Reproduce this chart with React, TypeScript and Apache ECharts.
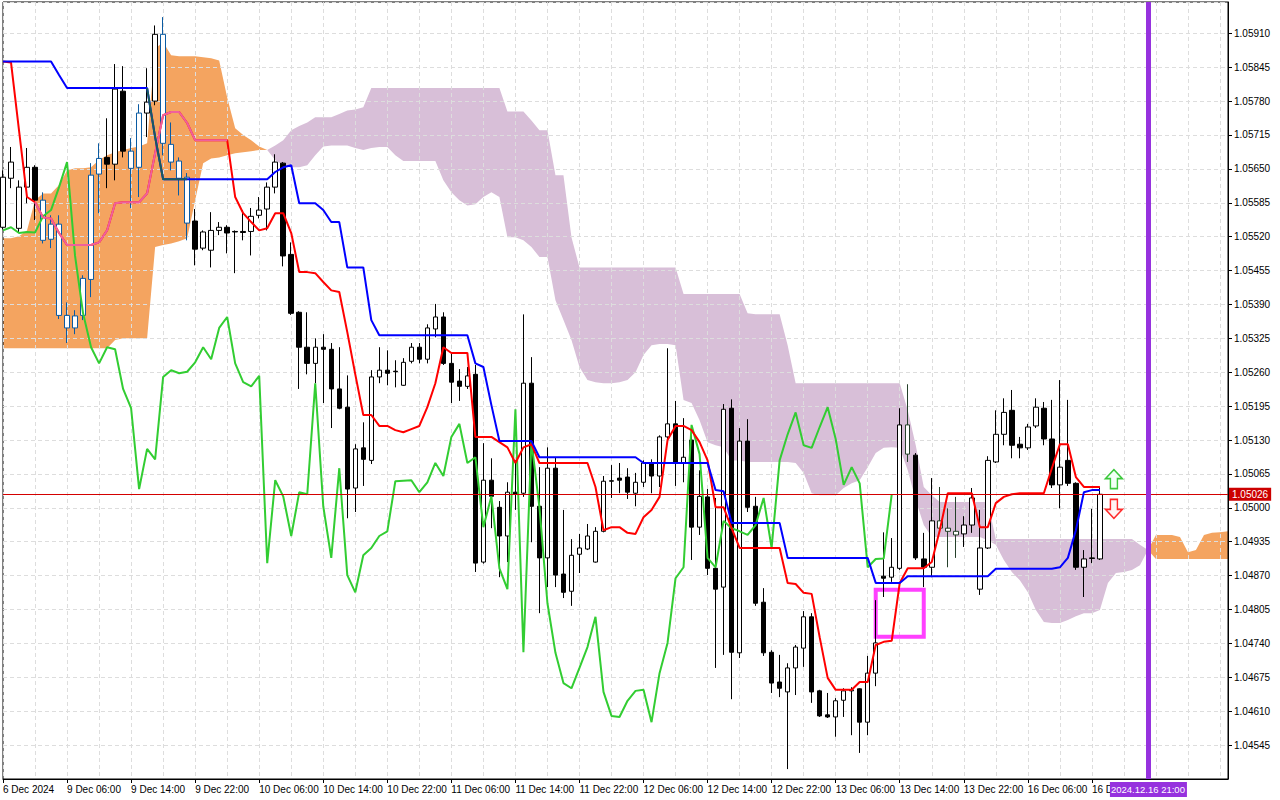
import React, { useEffect, useRef } from "react";
import * as echarts from "echarts";

// ---------- tick labels (one every 8 hourly bars) ----------
const tickLabels = [
  "6 Dec 2024", "9 Dec 06:00", "9 Dec 14:00", "9 Dec 22:00",
  "10 Dec 06:00", "10 Dec 14:00", "10 Dec 22:00",
  "11 Dec 06:00", "11 Dec 14:00", "11 Dec 22:00",
  "12 Dec 06:00", "12 Dec 14:00", "12 Dec 22:00",
  "13 Dec 06:00", "13 Dec 14:00", "13 Dec 22:00",
  "16 Dec 06:00", "16 D",
];
const BARS_PER_LABEL = 8;
const TOTAL_SLOTS = 154; // 138 candles + cloud projected forward

// ---------- candles (EURUSD H1) ----------
const openP = [
  1.05538, 1.05632, 1.05536, 1.05615, 1.05653, 1.05590, 1.05515, 1.05544, 1.05369, 1.05345,
  1.05369, 1.05438, 1.05640, 1.05672, 1.05659, 1.05799, 1.05684, 1.05653, 1.05757, 1.05780,
  1.05908, 1.05697, 1.05665, 1.05634, 1.05550, 1.05498, 1.05494, 1.05532, 1.05538, 1.05530,
  1.05530, 1.05530, 1.05561, 1.05573, 1.05615, 1.05661, 1.05486, 1.05375, 1.05308, 1.05277,
  1.05308, 1.05304, 1.05228, 1.05193, 1.05038, 1.05115, 1.05091, 1.05251, 1.05264, 1.05262,
  1.05235, 1.05281, 1.05308, 1.05285, 1.05343, 1.05366, 1.05277, 1.05243, 1.05233, 1.05256,
  1.04896, 1.05053, 1.05001, 1.04946, 1.05030, 1.05028, 1.05239, 1.05003, 1.04904, 1.05076,
  1.04873, 1.04840, 1.04911, 1.04921, 1.04896, 1.04955, 1.05051, 1.05057, 1.05059, 1.05028,
  1.05049, 1.05086, 1.05061, 1.05136, 1.05161, 1.05086, 1.05130, 1.04963, 1.05021, 1.04884,
  1.04848, 1.05191, 1.04722, 1.05128, 1.05003, 1.04819, 1.04723, 1.04666, 1.04647, 1.04693,
  1.04731, 1.04791, 1.04649, 1.04603, 1.04599, 1.04631, 1.04649, 1.04653, 1.04589, 1.04683,
  1.04869, 1.04867, 1.04884, 1.05159, 1.05101, 1.04902, 1.04886, 1.04975, 1.04961, 1.04955,
  1.04950, 1.04967, 1.04844, 1.04923, 1.05088, 1.05141, 1.05187, 1.05122, 1.05115, 1.05157,
  1.05191, 1.05132, 1.05044, 1.05091, 1.05047, 1.04886, 1.04904, 1.04902,
];
const highP = [
  1.05647, 1.05692, 1.05628, 1.05690, 1.05657, 1.05605, 1.05561, 1.05561, 1.05394, 1.05379,
  1.05446, 1.05661, 1.05699, 1.05747, 1.05851, 1.05847, 1.05709, 1.05774, 1.05843, 1.05925,
  1.05941, 1.05739, 1.05672, 1.05642, 1.05573, 1.05532, 1.05567, 1.05548, 1.05542, 1.05532,
  1.05571, 1.05575, 1.05596, 1.05624, 1.05678, 1.05663, 1.05509, 1.05377, 1.05375, 1.05325,
  1.05333, 1.05316, 1.05308, 1.05254, 1.05122, 1.05164, 1.05264, 1.05308, 1.05302, 1.05283,
  1.05287, 1.05316, 1.05316, 1.05352, 1.05391, 1.05375, 1.05297, 1.05266, 1.05270, 1.05274,
  1.05124, 1.05095, 1.05013, 1.05049, 1.05091, 1.05371, 1.05289, 1.05078, 1.05116, 1.05097,
  1.04996, 1.04940, 1.04950, 1.04969, 1.04963, 1.05061, 1.05082, 1.05086, 1.05076, 1.05067,
  1.05091, 1.05093, 1.05139, 1.05306, 1.05205, 1.05172, 1.05145, 1.05072, 1.05036, 1.05019,
  1.05199, 1.05208, 1.05153, 1.05170, 1.05021, 1.04846, 1.04727, 1.04718, 1.04702, 1.04737,
  1.04802, 1.04798, 1.04651, 1.04645, 1.04635, 1.04654, 1.04656, 1.04654, 1.04716, 1.04823,
  1.04953, 1.04942, 1.05191, 1.05237, 1.05105, 1.04952, 1.05057, 1.05040, 1.04999, 1.05021,
  1.04984, 1.05038, 1.04996, 1.05099, 1.05187, 1.05210, 1.05226, 1.05136, 1.05161, 1.05210,
  1.05203, 1.05207, 1.05245, 1.05207, 1.05049, 1.04919, 1.04998, 1.05040,
];
const lowP = [
  1.05534, 1.05613, 1.05527, 1.05584, 1.05552, 1.05507, 1.05498, 1.05362, 1.05316, 1.05333,
  1.05360, 1.05404, 1.05565, 1.05613, 1.05628, 1.05672, 1.05575, 1.05596, 1.05711, 1.05772,
  1.05676, 1.05647, 1.05599, 1.05513, 1.05465, 1.05494, 1.05461, 1.05523, 1.05488, 1.05450,
  1.05513, 1.05484, 1.05555, 1.05532, 1.05603, 1.05463, 1.05370, 1.05228, 1.05256, 1.05239,
  1.05201, 1.05153, 1.05189, 1.04980, 1.04992, 1.05042, 1.05084, 1.05239, 1.05235, 1.05231,
  1.05234, 1.05277, 1.05277, 1.05277, 1.05327, 1.05274, 1.05201, 1.05205, 1.05228, 1.04877,
  1.04893, 1.04961, 1.04867, 1.04896, 1.04996, 1.05021, 1.04934, 1.04798, 1.04848, 1.04848,
  1.04827, 1.04812, 1.04875, 1.04919, 1.04895, 1.04953, 1.05019, 1.05028, 1.05017, 1.05003,
  1.05040, 1.05028, 1.05040, 1.05130, 1.05042, 1.05049, 1.04900, 1.04948, 1.04871, 1.04693,
  1.04718, 1.04633, 1.04712, 1.04992, 1.04812, 1.04716, 1.04645, 1.04637, 1.04499, 1.04641,
  1.04695, 1.04626, 1.04599, 1.04597, 1.04561, 1.04599, 1.04564, 1.04530, 1.04564, 1.04658,
  1.04829, 1.04858, 1.04881, 1.05088, 1.04900, 1.04848, 1.04867, 1.04952, 1.04886, 1.04904,
  1.04925, 1.04952, 1.04833, 1.04921, 1.05086, 1.05120, 1.05095, 1.05095, 1.05111, 1.05153,
  1.05120, 1.05038, 1.04999, 1.05042, 1.04881, 1.04829, 1.04894, 1.04900,
];
const closeP = [
  1.05634, 1.05663, 1.05615, 1.05653, 1.05590, 1.05513, 1.05544, 1.05369, 1.05345, 1.05368,
  1.05440, 1.05638, 1.05670, 1.05659, 1.05803, 1.05684, 1.05651, 1.05757, 1.05778, 1.05908,
  1.05699, 1.05663, 1.05632, 1.05546, 1.05496, 1.05529, 1.05532, 1.05538, 1.05527, 1.05529,
  1.05528, 1.05559, 1.05571, 1.05615, 1.05663, 1.05483, 1.05373, 1.05308, 1.05277, 1.05308,
  1.05304, 1.05228, 1.05191, 1.05036, 1.05113, 1.05093, 1.05251, 1.05264, 1.05258, 1.05261,
  1.05279, 1.05308, 1.05285, 1.05345, 1.05366, 1.05277, 1.05241, 1.05233, 1.05253, 1.04894,
  1.05053, 1.05022, 1.04946, 1.05030, 1.05026, 1.05239, 1.05003, 1.04904, 1.05076, 1.04871,
  1.04838, 1.04909, 1.04923, 1.04946, 1.04955, 1.05051, 1.05052, 1.05053, 1.05030, 1.05049,
  1.05086, 1.05061, 1.05136, 1.05161, 1.05086, 1.05097, 1.04963, 1.05022, 1.04884, 1.04844,
  1.05189, 1.04723, 1.05128, 1.05001, 1.04817, 1.04722, 1.04664, 1.04654, 1.04693, 1.04733,
  1.04791, 1.04647, 1.04601, 1.04599, 1.04630, 1.04649, 1.04651, 1.04589, 1.04683, 1.04741,
  1.04865, 1.04886, 1.05159, 1.05103, 1.04904, 1.04886, 1.04975, 1.04961, 1.04955, 1.04948,
  1.04967, 1.05019, 1.04923, 1.05091, 1.05141, 1.05183, 1.05120, 1.05115, 1.05155, 1.05193,
  1.05132, 1.05044, 1.05078, 1.05047, 1.04886, 1.04902, 1.04903, 1.05026,
];

// ---------- Ichimoku lines ----------
const tenkan = [
  1.05856, 1.05854, 1.05724, 1.05596, 1.05586, 1.05557, 1.05555, 1.05527, 1.05504, 1.05504,
  1.05504, 1.05504, 1.05509, 1.05532, 1.05584, 1.05586, 1.05586, 1.05586, 1.05603, 1.05680,
  1.05753, 1.05759, 1.05759, 1.05738, 1.05705, 1.05705, 1.05705, 1.05705, 1.05705, 1.05596,
  1.05565, 1.05548, 1.05532, 1.05536, 1.05565, 1.05565, 1.05527, 1.05452, 1.05452, 1.05450,
  1.05433, 1.05417, 1.05414, 1.05337, 1.05256, 1.05178, 1.05178, 1.05157, 1.05157, 1.05149,
  1.05145, 1.05151, 1.05157, 1.05193, 1.05239, 1.05308, 1.05297, 1.05297, 1.05297, 1.05136,
  1.05136, 1.05136, 1.05126, 1.05116, 1.05086, 1.05116, 1.05122, 1.05086, 1.05086, 1.05086,
  1.05086, 1.05086, 1.05086, 1.05086, 1.05040, 1.04957, 1.04963, 1.04963, 1.04952, 1.04950,
  1.04982, 1.04996, 1.05021, 1.05130, 1.05157, 1.05157, 1.05149, 1.05126, 1.05091, 1.05001,
  1.05001, 1.04961, 1.04923, 1.04923, 1.04923, 1.04923, 1.04923, 1.04923, 1.04856, 1.04854,
  1.04837, 1.04835, 1.04752, 1.04674, 1.04651, 1.04651, 1.04651, 1.04666, 1.04666, 1.04737,
  1.04743, 1.04745, 1.04856, 1.04884, 1.04884, 1.04884, 1.04896, 1.04957, 1.05028, 1.05028,
  1.05028, 1.05028, 1.04963, 1.04963, 1.05009, 1.05021, 1.05026, 1.05028, 1.05028, 1.05028,
  1.05028, 1.05076, 1.05122, 1.05122, 1.05059, 1.05040, 1.05040, 1.05040,
];
const kijun = [
  1.05856, 1.05856, 1.05856, 1.05856, 1.05856, 1.05856, 1.05856, 1.05830, 1.05805, 1.05805,
  1.05805, 1.05805, 1.05805, 1.05805, 1.05805, 1.05805, 1.05805, 1.05805, 1.05805, 1.05711,
  1.05630, 1.05630, 1.05630, 1.05630, 1.05630, 1.05630, 1.05630, 1.05630, 1.05630, 1.05630,
  1.05630, 1.05630, 1.05630, 1.05630, 1.05644, 1.05653, 1.05657, 1.05584, 1.05584, 1.05584,
  1.05571, 1.05548, 1.05548, 1.05461, 1.05461, 1.05461, 1.05360, 1.05331, 1.05331, 1.05331,
  1.05331, 1.05331, 1.05331, 1.05331, 1.05331, 1.05331, 1.05331, 1.05331, 1.05331, 1.05277,
  1.05270, 1.05197, 1.05128, 1.05128, 1.05128, 1.05128, 1.05128, 1.05097, 1.05097, 1.05097,
  1.05097, 1.05097, 1.05097, 1.05097, 1.05097, 1.05097, 1.05097, 1.05097, 1.05097, 1.05097,
  1.05086, 1.05086, 1.05086, 1.05086, 1.05086, 1.05086, 1.05086, 1.05086, 1.05086, 1.05034,
  1.05032, 1.04971, 1.04971, 1.04971, 1.04971, 1.04971, 1.04971, 1.04971, 1.04904, 1.04904,
  1.04904, 1.04904, 1.04904, 1.04904, 1.04904, 1.04904, 1.04904, 1.04904, 1.04904, 1.04856,
  1.04856, 1.04856, 1.04856, 1.04869, 1.04869, 1.04869, 1.04869, 1.04869, 1.04869, 1.04869,
  1.04869, 1.04869, 1.04869, 1.04869, 1.04883, 1.04883, 1.04883, 1.04883, 1.04883, 1.04883,
  1.04883, 1.04883, 1.04886, 1.04904, 1.04957, 1.05030, 1.05034, 1.05034,
];
// Senkou spans (already shifted 26 bars forward, 154 slots)
const spanA = [
  1.05517, 1.05517, 1.05521, 1.05532, 1.05590, 1.05603, 1.05603, 1.05619, 1.05647, 1.05651,
  1.05651, 1.05653, 1.05667, 1.05676, 1.05682, 1.05686, 1.05690, 1.05693, 1.05699, 1.05881,
  1.05893, 1.05868, 1.05866, 1.05866, 1.05866, 1.05864, 1.05862, 1.05858, 1.05787, 1.05728,
  1.05715, 1.05705, 1.05693, 1.05686, 1.05667, 1.05657, 1.05653, 1.05653, 1.05657, 1.05676,
  1.05693, 1.05695, 1.05695, 1.05695, 1.05690, 1.05686, 1.05690, 1.05692, 1.05692, 1.05676,
  1.05665, 1.05665, 1.05665, 1.05665, 1.05665, 1.05628, 1.05605, 1.05590, 1.05580, 1.05582,
  1.05596, 1.05605, 1.05596, 1.05519, 1.05519, 1.05513, 1.05500, 1.05481, 1.05481, 1.05398,
  1.05360, 1.05322, 1.05270, 1.05245, 1.05241, 1.05239, 1.05239, 1.05241, 1.05245, 1.05260,
  1.05293, 1.05312, 1.05314, 1.05314, 1.05312, 1.05207, 1.05201, 1.05168, 1.05126, 1.05120,
  1.05116, 1.05091, 1.05091, 1.05088, 1.05088, 1.05088, 1.05088, 1.05088, 1.05088, 1.05086,
  1.05067, 1.05028, 1.05024, 1.05024, 1.05024, 1.05038, 1.05047, 1.05053, 1.05078, 1.05105,
  1.05115, 1.05116, 1.05115, 1.05072, 1.05015, 1.04967, 1.04944, 1.04944, 1.04944, 1.04944,
  1.04944, 1.04944, 1.04944, 1.04938, 1.04929, 1.04900, 1.04877, 1.04861, 1.04838, 1.04804,
  1.04781, 1.04779, 1.04779, 1.04785, 1.04792, 1.04798, 1.04798, 1.04804, 1.04856, 1.04875,
  1.04877, 1.04881, 1.04890, 1.04919, 1.04948, 1.04948, 1.04948, 1.04944, 1.04915, 1.04919,
  1.04948, 1.04952, 1.04953, 1.04955,
];
const spanB = [
  1.05306, 1.05306, 1.05306, 1.05306, 1.05306, 1.05306, 1.05306, 1.05306, 1.05306, 1.05306,
  1.05306, 1.05306, 1.05306, 1.05306, 1.05322, 1.05325, 1.05325, 1.05325, 1.05325, 1.05500,
  1.05504, 1.05507, 1.05511, 1.05517, 1.05590, 1.05661, 1.05670, 1.05672, 1.05676, 1.05680,
  1.05682, 1.05684, 1.05686, 1.05686, 1.05695, 1.05705, 1.05724, 1.05732, 1.05739, 1.05749,
  1.05749, 1.05749, 1.05755, 1.05762, 1.05764, 1.05768, 1.05805, 1.05805, 1.05805, 1.05805,
  1.05805, 1.05805, 1.05805, 1.05805, 1.05805, 1.05805, 1.05805, 1.05805, 1.05805, 1.05805,
  1.05805, 1.05805, 1.05805, 1.05760, 1.05760, 1.05760, 1.05743, 1.05724, 1.05724, 1.05638,
  1.05638, 1.05519, 1.05461, 1.05461, 1.05461, 1.05461, 1.05461, 1.05461, 1.05461, 1.05461,
  1.05461, 1.05461, 1.05461, 1.05461, 1.05461, 1.05410, 1.05410, 1.05410, 1.05410, 1.05410,
  1.05410, 1.05410, 1.05410, 1.05373, 1.05371, 1.05371, 1.05371, 1.05371, 1.05312, 1.05239,
  1.05239, 1.05239, 1.05239, 1.05239, 1.05239, 1.05239, 1.05239, 1.05239, 1.05239, 1.05239,
  1.05239, 1.05239, 1.05239, 1.05187, 1.05120, 1.05040, 1.05024, 1.05011, 1.05011, 1.05011,
  1.05011, 1.05011, 1.05011, 1.05011, 1.04940, 1.04940, 1.04940, 1.04940, 1.04940, 1.04940,
  1.04940, 1.04940, 1.04940, 1.04940, 1.04940, 1.04940, 1.04940, 1.04940, 1.04940, 1.04940,
  1.04940, 1.04940, 1.04929, 1.04919, 1.04902, 1.04902, 1.04902, 1.04902, 1.04902, 1.04902,
  1.04902, 1.04902, 1.04902, 1.04902,
];
const CHIKOU_SHIFT = 26;

// bars whose colours appear changed where they overlap the cloud fill
const blueBars = [5, 6, 7, 8, 9, 10, 11, 12, 16, 17, 20, 21, 22, 23];
const darkBars = [113, 117, 118, 119];
const pinkTenkanRange = [4, 28];
const tealKijunRange = [18, 23];

// ---------- annotations ----------
const currentPrice = 1.05026;
const verticalBar = 143;
const verticalLabel = "2024.12.16 21:00";
const buyArrow = [139, 1.05055];
const sellArrow = [139, 1.04998];
const boxCorners = [[109, 1.04843], [115, 1.04753]];

// ---------- styling ----------
const FONT = "'Liberation Sans', Arial, sans-serif";
const BLUE_CANDLE = "#0b5ba2";
const DARK_CANDLE = "#25402a";
const ORANGE = "#f4a460";
const THISTLE = "#d8bfd8";
const PURPLE = "#9632de";
const GRID_LINE = "#dddddd";

export default function App() {
  const ref = useRef<HTMLDivElement>(null);

  useEffect(() => {
    const el = ref.current;
    if (!el) return;
    document.body.style.margin = "0";
    const chart = echarts.init(el, null, { renderer: "svg" });

    const cats = Array.from({ length: TOTAL_SLOTS }, (_, i) => String(i));
    const candleData = closeP.map((c, i) => {
      const value = [openP[i], c, lowP[i], highP[i]];
      if (blueBars.includes(i)) {
        return { value, itemStyle: { color: "#ffffff", color0: BLUE_CANDLE, borderColor: BLUE_CANDLE, borderColor0: BLUE_CANDLE } };
      }
      if (darkBars.includes(i)) {
        return { value, itemStyle: { color: "#ffffff", color0: DARK_CANDLE, borderColor: DARK_CANDLE, borderColor0: DARK_CANDLE } };
      }
      return value;
    });
    const cloudBase = spanA.map((a, i) => Math.min(a, spanB[i]));
    const cloudUp = spanA.map((a, i) => Math.max(a - spanB[i], 0));
    const cloudDown = spanA.map((a, i) => Math.max(spanB[i] - a, 0));
    const chikou = closeP.slice(CHIKOU_SHIFT);
    const tenkanPink = tenkan.map((v, i) => (i >= pinkTenkanRange[0] && i <= pinkTenkanRange[1] ? v : null));
    const kijunTeal = kijun.map((v, i) => (i >= tealKijunRange[0] && i <= tealKijunRange[1] ? v : null));

    const labelAt = (i: number) => i % BARS_PER_LABEL === 0 && i / BARS_PER_LABEL < tickLabels.length;

    const areaSeries = (name: string, data: number[], color: string | null) => ({
      name,
      type: "line",
      stack: "cloud",
      data,
      symbol: "none",
      silent: true,
      z: 0,
      lineStyle: { opacity: 0, width: 0 },
      areaStyle: color ? { color, opacity: 1 } : undefined,
    });

    const lineSeries = (name: string, data: (number | null)[], color: string, z: number) => ({
      name,
      type: "line",
      data,
      symbol: "none",
      silent: true,
      z,
      lineStyle: { color, width: 2 },
    });

    chart.setOption({
      animation: false,
      backgroundColor: "#ffffff",
      textStyle: { fontFamily: FONT },
      grid: { left: 2, right: 52, top: 2, bottom: 21, show: true, borderColor: "#000", borderWidth: 1, z: 1 },
      xAxis: {
        type: "category",
        data: cats,
        boundaryGap: false,
        z: 1,
        axisLine: { lineStyle: { color: "#000", width: 1 } },
        axisTick: { interval: (i: number) => labelAt(i), length: 4, lineStyle: { color: "#000" } },
        axisLabel: {
          interval: (i: number) => labelAt(i),
          formatter: (_v: string, i: number) => tickLabels[i / BARS_PER_LABEL] ?? "",
          align: "left",
          color: "#000",
          fontSize: 10,
          fontFamily: FONT,
          margin: 5,
        },
        splitLine: { show: true, interval: (i: number) => i % 4 === 0, lineStyle: { color: GRID_LINE, type: [4, 3], width: 1 } },
      },
      yAxis: {
        type: "value",
        position: "right",
        min: 1.0448,
        max: 1.0597,
        interval: 0.00065,
        z: 1,
        axisLine: { show: true, lineStyle: { color: "#000", width: 1 } },
        axisTick: { show: true, length: 4, lineStyle: { color: "#000" } },
        axisLabel: {
          formatter: (v: number) => v.toFixed(5),
          color: "#000",
          fontSize: 10,
          fontFamily: FONT,
          margin: 6,
          showMinLabel: false,
          showMaxLabel: false,
        },
        splitLine: { show: true, lineStyle: { color: GRID_LINE, type: [4, 3], width: 1 } },
      },
      series: [
        areaSeries("cloudBase", cloudBase, null),
        areaSeries("kumoBull", cloudUp, ORANGE),
        areaSeries("kumoBear", cloudDown, THISTLE),
        {
          name: "EURUSD",
          type: "candlestick",
          data: candleData,
          barWidth: 5,
          z: 2,
          silent: true,
          itemStyle: { color: "#ffffff", color0: "#000000", borderColor: "#000000", borderColor0: "#000000", borderWidth: 1 },
          markLine: {
            silent: true,
            precision: 5,
            symbol: ["none", "none"],
            data: [
              {
                yAxis: currentPrice,
                lineStyle: { color: "#d40000", width: 1, type: "solid" },
                label: {
                  show: true,
                  position: "end",
                  distance: 1,
                  formatter: () => currentPrice.toFixed(5),
                  color: "#ffffff",
                  backgroundColor: "#cc0000",
                  padding: [2, 3, 1, 3],
                  fontSize: 10,
                  fontFamily: FONT,
                },
              },
            ],
          },
        },
        lineSeries("chikou", chikou, "#32cd32", 3),
        lineSeries("tenkan", tenkan, "#ff0000", 4),
        lineSeries("tenkanInCloud", tenkanPink, "#f0609c", 5),
        lineSeries("kijun", kijun, "#0000ff", 6),
        {
          ...lineSeries("kijunInCloud", kijunTeal, "#185c5c", 7),
          markArea: {
            silent: true,
            itemStyle: { color: "rgba(0,0,0,0)", borderColor: "#ff40ff", borderWidth: 4 },
            label: { show: false },
            data: [[
              { xAxis: boxCorners[0][0], yAxis: boxCorners[0][1] },
              { xAxis: boxCorners[1][0], yAxis: boxCorners[1][1] },
            ]],
          },
          markPoint: {
            silent: true,
            label: { show: false },
            data: [
              {
                coord: buyArrow,
                symbol: "path://M8.5,0 L17,9 L12,9 L12,19 L5,19 L5,9 L0,9 Z",
                symbolSize: [17, 19],
                symbolOffset: [-2, 0],
                itemStyle: { color: "#f2fff6", borderColor: "#3cc83c", borderWidth: 1.5 },
              },
              {
                coord: sellArrow,
                symbol: "path://M5,0 L12,0 L12,10 L17,10 L8.5,19 L0,10 L5,10 Z",
                symbolSize: [17, 19],
                symbolOffset: [-2, 0],
                itemStyle: { color: "#fff4f4", borderColor: "#ff2a2a", borderWidth: 1.5 },
              },
            ],
          },
          markLine: {
            silent: true,
            symbol: ["none", "none"],
            label: { show: false },
            data: [{ xAxis: verticalBar, lineStyle: { color: PURPLE, width: 5, type: "solid" } }],
          },
        },
      ],
    });

    const px = chart.convertToPixel({ xAxisIndex: 0 }, verticalBar) as number;
    chart.setOption({
      graphic: [
        {
          type: "rect",
          z: 100,
          shape: { x: px - 38, y: 782, width: 77, height: 15 },
          style: { fill: PURPLE },
        },
        {
          type: "text",
          z: 101,
          x: px,
          y: 789.5,
          style: {
            text: verticalLabel,
            fill: "#ffffff",
            font: `9.5px ${FONT}`,
            align: "center",
            verticalAlign: "middle",
            textAlign: "center",
            textVerticalAlign: "middle",
          },
        },
      ],
    });

    return () => chart.dispose();
  }, []);

  return <div ref={ref} style={{ position: "fixed", left: 0, top: 0, width: 1280, height: 800, background: "#fff" }} />;
}
